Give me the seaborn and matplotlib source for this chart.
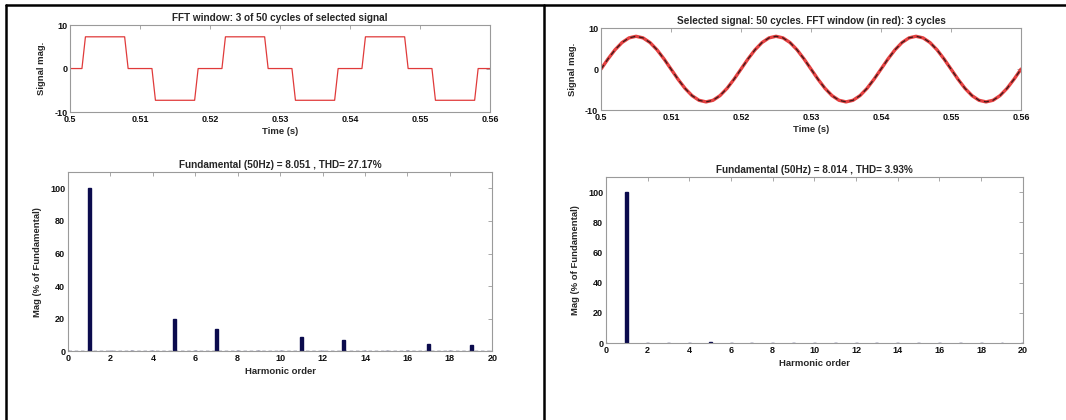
import numpy as np
import pandas as pd
import matplotlib
matplotlib.use("Agg")
import matplotlib.pyplot as plt
from matplotlib.lines import Line2D
import seaborn as sns

# ---------------- data ----------------
# Left: stepped (120-degree) waveform, breakpoints
step_t = [0.5000, 0.5017, 0.5022, 0.5078, 0.5083, 0.5117, 0.5122, 0.5178, 0.5183,
          0.5217, 0.5222, 0.5278, 0.5283, 0.5317, 0.5322, 0.5378, 0.5383,
          0.5417, 0.5422, 0.5478, 0.5483, 0.5517, 0.5522, 0.5578, 0.5583, 0.5600]
step_v = [0.0, 0.0, 7.3, 7.3, 0.0, 0.0, -7.3, -7.3, 0.0,
          0.0, 7.3, 7.3, 0.0, 0.0, -7.3, -7.3, 0.0,
          0.0, 7.3, 7.3, 0.0, 0.0, -7.3, -7.3, 0.0, 0.0]

sine_v = [0.00, 2.48, 4.71, 6.48, 7.62, 8.01, 7.62, 6.48, 4.71, 2.48,
          0.00, -2.48, -4.71, -6.48, -7.62, -8.01, -7.62, -6.48, -4.71, -2.48,
          0.00, 2.48, 4.71, 6.48, 7.62, 8.01, 7.62, 6.48, 4.71, 2.48,
          0.00, -2.48, -4.71, -6.48, -7.62, -8.01, -7.62, -6.48, -4.71, -2.48,
          0.00, 2.48, 4.71, 6.48, 7.62, 8.01, 7.62, 6.48, 4.71, 2.48,
          0.00, -2.48, -4.71, -6.48, -7.62, -8.01, -7.62, -6.48, -4.71, -2.48,
          0.00]
sine_t = list(np.round(0.5 + 0.001 * np.arange(len(sine_v)), 4))

# Harmonic spectra (% of fundamental), orders 0..20
harm_order = list(range(21))
harm_left = [0, 100, 0, 0, 0, 20.0, 0, 13.7, 0, 0, 0, 8.4, 0, 6.9, 0, 0, 0, 4.6, 0, 3.8, 0]
harm_right = [0, 100, 0, 0, 0, 0.9, 0, 0.2, 0, 0, 0, 0.3, 0, 0.3, 0, 0, 0, 0.1, 0, 0.1, 0]

title_tl = "FFT window: 3 of 50 cycles of selected signal"
title_tr = "Selected signal: 50 cycles. FFT window (in red): 3 cycles"
title_bl = "Fundamental (50Hz) = 8.051 , THD= 27.17%"
title_br = "Fundamental (50Hz) = 8.014 , THD= 3.93%"

time_ticks = [0.5, 0.51, 0.52, 0.53, 0.54, 0.55, 0.56]
time_ticklabels = ["0.5", "0.51", "0.52", "0.53", "0.54", "0.55", "0.56"]
harm_ticks = list(range(0, 21, 2))
mag_ticks = [0, 20, 40, 60, 80, 100]

# ---------------- style ----------------
sns.set_theme(style="white")
plt.rcParams["font.family"] = ["Liberation Sans Narrow", "Liberation Sans", "DejaVu Sans"]
plt.rcParams["font.weight"] = "bold"
plt.rcParams["axes.unicode_minus"] = False

NAVY = "#0b0b4d"
RED = "#e03a3a"
SPINE = "#9a9a9a"
FS_T = 7.2
FS_L = 6.8
FS_K = 6.5

fig = plt.figure(figsize=(10.66, 4.2), dpi=100)


def style_axes(ax):
    for s in ax.spines.values():
        s.set_color(SPINE)
        s.set_linewidth(0.8)
    ax.tick_params(direction="in", length=3, width=0.6, color=SPINE,
                   labelsize=FS_K, top=True, right=True, pad=2,
                   labelcolor="#111111")
    ax.grid(False)


# Top-left
ax1 = fig.add_axes([0.0657, 0.7333, 0.394, 0.207])
sns.lineplot(x=step_t, y=step_v, ax=ax1, color=RED, linewidth=0.9, sort=False)
ax1.set_xlim(0.5, 0.56)
ax1.set_ylim(-10, 10)
ax1.set_xticks(time_ticks)
ax1.set_xticklabels(time_ticklabels)
ax1.set_yticks([-10, 0, 10])
ax1.set_title(title_tl, fontsize=FS_T, fontweight="bold", pad=3)
ax1.set_xlabel("Time (s)", fontsize=FS_L, fontweight="bold", labelpad=2)
ax1.set_ylabel("Signal mag.", fontsize=FS_L, fontweight="bold", labelpad=6)
style_axes(ax1)

# Top-right
ax2 = fig.add_axes([0.5638, 0.738, 0.394, 0.195])
sns.lineplot(x=sine_t, y=sine_v, ax=ax2, color="#e02020", linewidth=2.4, alpha=0.85, sort=False)
sns.lineplot(x=sine_t, y=sine_v, ax=ax2, color="#3a1a1a", linewidth=0.9,
             linestyle=(0, (4, 3)), sort=False)
ax2.set_xlim(0.5, 0.56)
ax2.set_ylim(-10, 10)
ax2.set_xticks(time_ticks)
ax2.set_xticklabels(time_ticklabels)
ax2.set_yticks([-10, 0, 10])
ax2.set_title(title_tr, fontsize=FS_T, fontweight="bold", pad=3)
ax2.set_xlabel("Time (s)", fontsize=FS_L, fontweight="bold", labelpad=2)
ax2.set_ylabel("Signal mag.", fontsize=FS_L, fontweight="bold", labelpad=6)
style_axes(ax2)

# Bottom-left
ax3 = fig.add_axes([0.0638, 0.164, 0.398, 0.426])
dfl = pd.DataFrame({"order": harm_order, "mag": harm_left})
sns.barplot(data=dfl, x="order", y="mag", ax=ax3, native_scale=True, width=0.14,
            color=NAVY, saturation=1, errorbar=None, edgecolor=NAVY, linewidth=1.0)
ax3.axhline(0, color="#333355", linewidth=1.0, linestyle=(0, (2.5, 2)), zorder=5)
ax3.set_xlim(0, 20)
ax3.set_ylim(0, 110)
ax3.set_xticks(harm_ticks)
ax3.set_xticklabels([str(v) for v in harm_ticks])
ax3.set_yticks(mag_ticks)
ax3.set_title(title_bl, fontsize=FS_T, fontweight="bold", pad=3)
ax3.set_xlabel("Harmonic order", fontsize=FS_L, fontweight="bold", labelpad=3)
ax3.set_ylabel("Mag (% of Fundamental)", fontsize=FS_L, fontweight="bold", labelpad=6)
style_axes(ax3)

# Bottom-right
ax4 = fig.add_axes([0.5685, 0.183, 0.391, 0.395])
dfr = pd.DataFrame({"order": harm_order, "mag": harm_right})
sns.barplot(data=dfr, x="order", y="mag", ax=ax4, native_scale=True, width=0.14,
            color=NAVY, saturation=1, errorbar=None, edgecolor=NAVY, linewidth=1.0)
ax4.axhline(0, color="#bbbbbb", linewidth=0.7)
ax4.set_xlim(0, 20)
ax4.set_ylim(0, 110)
ax4.set_xticks(harm_ticks)
ax4.set_xticklabels([str(v) for v in harm_ticks])
ax4.set_yticks(mag_ticks)
ax4.set_title(title_br, fontsize=FS_T, fontweight="bold", pad=3)
ax4.set_xlabel("Harmonic order", fontsize=FS_L, fontweight="bold", labelpad=3)
ax4.set_ylabel("Mag (% of Fundamental)", fontsize=FS_L, fontweight="bold", labelpad=6)
style_axes(ax4)

# Table borders
W, H = 1066.0, 420.0
def fline(x0, y0, x1, y1):
    fig.add_artist(Line2D([x0 / W, x1 / W], [1 - y0 / H, 1 - y1 / H],
                          transform=fig.transFigure, color="black", linewidth=1.8))

fline(6, 5, 1066, 5)
fline(6, 5, 6, 420)
fline(544, 5, 544, 420)

fig.savefig("out.png", dpi=100, facecolor="white")
